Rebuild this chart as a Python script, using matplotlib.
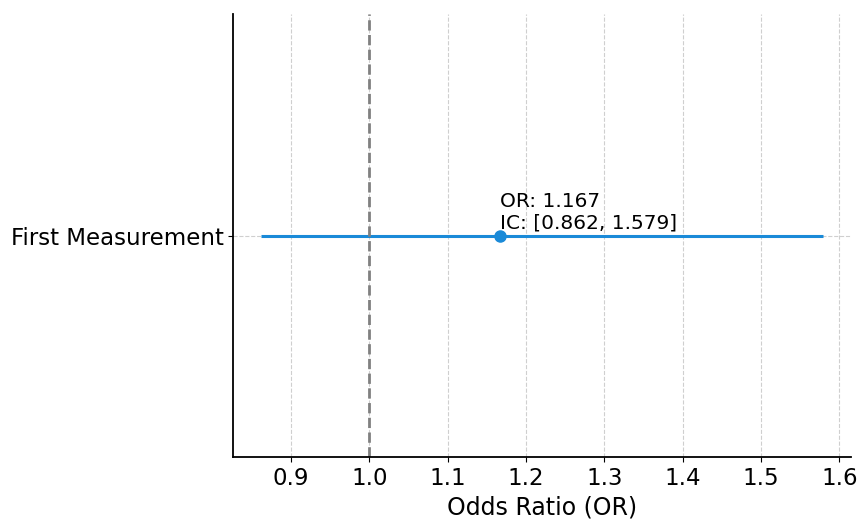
import matplotlib.pyplot as plt

labels = ['First Measurement']
odds_ratio = [1.167]
ci_low = [0.862]
ci_high = [1.579]

fig, ax = plt.subplots(figsize=(8.64, 5.23), dpi=100)
fig.subplots_adjust(left=0.27, right=0.985, top=0.973, bottom=0.126)

ypos = list(range(len(labels)))
err_lo = [o - l for o, l in zip(odds_ratio, ci_low)]
err_hi = [h - o for o, h in zip(odds_ratio, ci_high)]

ax.errorbar(odds_ratio, ypos, xerr=[err_lo, err_hi], fmt='o', color='#1a8ad8',
            ecolor='#1a8ad8', elinewidth=2.2, markersize=8, capsize=0)
ax.axvline(1.0, color='gray', linestyle='--', linewidth=2)

for y, o, l, h in zip(ypos, odds_ratio, ci_low, ci_high):
    ax.annotate(f'OR: {o:.3f}\nIC: [{l:.3f}, {h:.3f}]', xy=(o, y),
                xytext=(0, 2), textcoords='offset points',
                fontsize=14.5, ha='left', va='bottom')

ax.set_yticks(ypos)
ax.set_yticklabels(labels)
ax.set_xlabel('Odds Ratio (OR)', fontsize=17)
ax.tick_params(axis='both', labelsize=16.5)
ax.grid(True, linestyle='--', alpha=0.6)
ax.spines['top'].set_visible(False)
ax.spines['right'].set_visible(False)
ax.spines['left'].set_linewidth(1.3)
ax.spines['bottom'].set_linewidth(1.3)

plt.savefig('out.png')
